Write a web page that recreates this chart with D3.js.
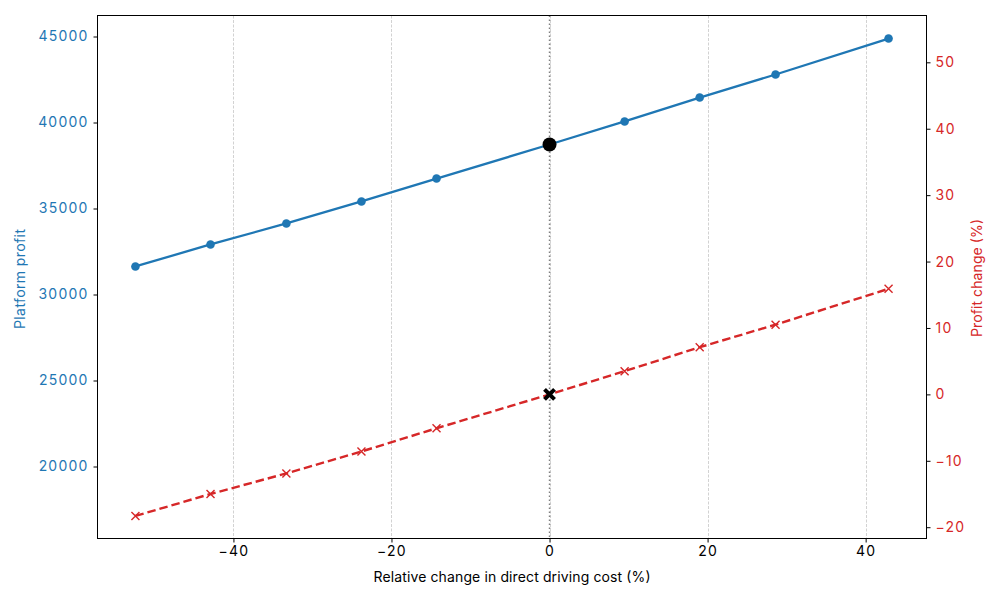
<!DOCTYPE html>
<html><head><meta charset="utf-8">
<script src="https://cdn.jsdelivr.net/npm/d3@7"></script>
<style>body{margin:0;background:#fff}text{font-family:Inter,"DejaVu Sans",sans-serif}</style>
</head><body><svg id="c" width="1000" height="600"></svg>
<script>
const costChange = [-52.4, -42.9, -33.3, -23.8, -14.3, 0, 9.5, 19.0, 28.6, 42.9];
const platformProfit = [31630, 32910, 34130, 35410, 36740, 38720, 40060, 41450, 42790, 44880];
const profitChange = [-18.3, -15.0, -11.9, -8.6, -5.1, 0, 3.5, 7.1, 10.5, 15.9];
const xTicks = [-40, -20, 0, 20, 40];
const yLeftTicks = [20000, 25000, 30000, 35000, 40000, 45000];
const yRightTicks = [-20, -10, 0, 10, 20, 30, 40, 50];
const baseIdx = 5;

const blue = "#1f77b4", red = "#d62728";
const L = 97.5, R = 926.5, T = 15.5, B = 538.5;
const svg = d3.select("#c");
const x = d3.scaleLinear().domain([-57.2, 47.7]).range([L, R]);
const yL = d3.scaleLinear().domain([15814, 46221]).range([B, T]);
const yR = d3.scaleLinear().domain([-21.7, 57.05]).range([B, T]);

// grid
svg.append("g").selectAll("line").data(xTicks).join("line")
  .attr("x1", d => Math.round(x(d)) + 0.5).attr("x2", d => Math.round(x(d)) + 0.5).attr("y1", T).attr("y2", B)
  .attr("stroke", "#b0b0b0").attr("stroke-width", 0.8).attr("stroke-dasharray", "3,1.5").attr("opacity", 0.7);
// baseline vertical dotted
svg.append("line").attr("x1", x(0)).attr("x2", x(0)).attr("y1", T).attr("y2", B)
  .attr("stroke", "#808080").attr("stroke-width", 1.5).attr("stroke-dasharray", "1.5,2.5");

const idx = d3.range(costChange.length);
// left series
svg.append("path").datum(idx)
  .attr("d", d3.line().x(i => x(costChange[i])).y(i => yL(platformProfit[i])))
  .attr("fill", "none").attr("stroke", blue).attr("stroke-width", 2.3);
svg.append("g").selectAll("circle").data(idx).join("circle")
  .attr("cx", i => x(costChange[i])).attr("cy", i => yL(platformProfit[i])).attr("r", 4.3).attr("fill", blue);
// right series
svg.append("path").datum(idx)
  .attr("d", d3.line().x(i => x(costChange[i])).y(i => yR(profitChange[i])))
  .attr("fill", "none").attr("stroke", red).attr("stroke-width", 2.4).attr("stroke-dasharray", "8.5,4");
const xm = (g, s, sw, col) => g.each(function(i){
  const cx = x(costChange[i]), cy = yR(profitChange[i]);
  d3.select(this).append("path")
    .attr("d", `M${cx-s},${cy-s}L${cx+s},${cy+s}M${cx-s},${cy+s}L${cx+s},${cy-s}`)
    .attr("stroke", col).attr("stroke-width", sw).attr("fill", "none");
});
svg.append("g").selectAll("g").data(idx.filter(i => i !== baseIdx)).join("g").call(xm, 4, 1.4, red);
// baseline markers
svg.append("circle").attr("cx", x(costChange[baseIdx])).attr("cy", yL(platformProfit[baseIdx])).attr("r", 7).attr("fill", "#000");
svg.append("g").selectAll("g").data([baseIdx]).join("g").call(xm, 5, 4, "#000");

// axes
const fs = "14px";
const minus = d => d < 0 ? "\u2212" + Math.abs(d) : d;
const ax = svg.append("g").attr("transform", `translate(0,${B})`).call(d3.axisBottom(x).tickValues(xTicks).tickSize(4).tickPadding(4).tickFormat(minus));
const aL = svg.append("g").attr("transform", `translate(${L},0)`).call(d3.axisLeft(yL).tickValues(yLeftTicks).tickSize(4).tickPadding(5).tickFormat(d => d));
const aR = svg.append("g").attr("transform", `translate(${R},0)`).call(d3.axisRight(yR).tickValues(yRightTicks).tickSize(4).tickPadding(5).tickFormat(minus));
[ax, aL, aR].forEach(a => { a.select(".domain").remove(); a.selectAll("line").attr("stroke", "#000").attr("stroke-width", 1); a.selectAll("text").attr("font-size", fs).attr("letter-spacing", "1.2px").attr("font-family", "Inter, sans-serif"); });
ax.selectAll("text").attr("fill", "#000");
aL.selectAll("text").attr("fill", blue);
aR.selectAll("text").attr("fill", red);
svg.append("rect").attr("x", L).attr("y", T).attr("width", R - L).attr("height", B - T).attr("fill", "none").attr("stroke", "#000").attr("stroke-width", 1);

svg.append("text").attr("x", (L + R) / 2).attr("y", 582).attr("text-anchor", "middle").attr("font-size", "14px").attr("fill", "#000")
  .attr("textLength", 277).attr("lengthAdjust", "spacing").text("Relative change in direct driving cost (%)");
svg.append("text").attr("transform", `translate(25,279) rotate(-90)`).attr("text-anchor", "middle").attr("font-size", "14px").attr("fill", blue)
  .attr("textLength", 100).attr("lengthAdjust", "spacing").text("Platform profit");
svg.append("text").attr("transform", `translate(982,278) rotate(-90)`).attr("text-anchor", "middle").attr("font-size", "14px").attr("fill", red)
  .attr("textLength", 118).attr("lengthAdjust", "spacing").text("Profit change (%)");
</script></body></html>
